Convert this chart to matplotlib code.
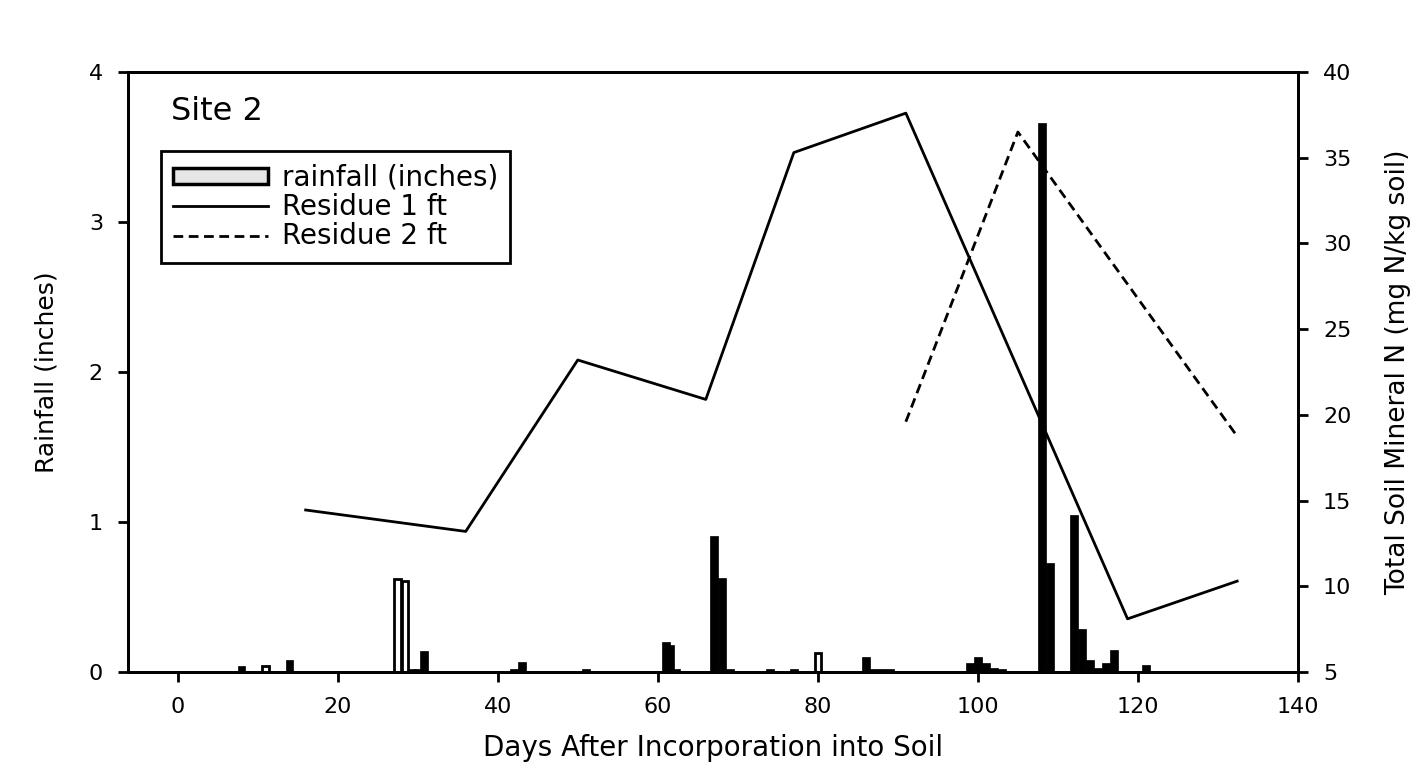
import matplotlib
matplotlib.use('Agg')
import matplotlib.pyplot as plt
from matplotlib.lines import Line2D
from matplotlib.patches import Patch

# daily rainfall (inches) vs days after incorporation
rain_days = [8, 11, 14, 27.5, 28.4, 29.3, 30, 30.8, 42, 43, 51, 61, 61.6, 62.3,
             67, 68, 69, 74, 77, 80, 86, 87, 88, 89, 99, 100, 101, 102, 103,
             108, 109, 112, 113, 114, 115, 116, 117, 121]
rain_in = [0.04, 0.04, 0.08, 0.62, 0.61, 0.02, 0.02, 0.14, 0.02, 0.07, 0.02, 0.20, 0.18, 0.02,
           0.91, 0.63, 0.02, 0.02, 0.02, 0.13, 0.10, 0.02, 0.02, 0.02, 0.06, 0.10, 0.06, 0.03, 0.02,
           3.66, 0.73, 1.05, 0.29, 0.08, 0.03, 0.06, 0.15, 0.05]
hollow_days = [11, 27.5, 28.4, 80]

# total soil mineral N (mg N/kg soil)
res1_days = [16, 36, 50, 66, 77, 91, 118.7, 132.4]
res1_n = [14.45, 13.2, 23.2, 20.9, 35.3, 37.6, 8.1, 10.3]
res2_days = [91, 105, 132.4]
res2_n = [19.6, 36.5, 18.75]

plt.rcParams['font.family'] = ['DejaVu Sans']
lw_ax = 2.0
dash = (0, (3.5, 2))

fig = plt.figure(figsize=(14.18, 7.68), dpi=100)
ax = fig.add_axes([128 / 1418, 96 / 768, 1170 / 1418, 600 / 768])

for d, r in zip(rain_days, rain_in):
    if d in hollow_days:
        ax.bar(d, r, width=0.8, color='white', edgecolor='black', linewidth=2, zorder=2)
    else:
        ax.bar(d, r, width=0.95, color='black', edgecolor='black', linewidth=0.5, zorder=2)

ax.set_xlim(-6.2, 140)
ax.set_ylim(0, 4)
ax.set_xticks(range(0, 141, 20))
ax.set_yticks(range(0, 5))
ax.set_xlabel('Days After Incorporation into Soil', fontsize=20, labelpad=12)
ax.set_ylabel('Rainfall (inches)', fontsize=18, labelpad=22)

ax2 = ax.twinx()
ax2.plot(res1_days, res1_n, color='black', linewidth=2)
ax2.plot(res2_days, res2_n, color='black', linewidth=2, linestyle=dash)
ax2.set_ylim(5, 40)
ax2.set_yticks(range(5, 41, 5))
ax2.set_ylabel('Total Soil Mineral N (mg N/kg soil)', fontsize=19, labelpad=24)

for a in (ax, ax2):
    for s in a.spines.values():
        s.set_linewidth(lw_ax)
    a.tick_params(direction='out', length=7, width=lw_ax, labelsize=16, pad=11)

ax.text(0.037, 0.96, 'Site 2', transform=ax.transAxes, fontsize=23, va='top', ha='left')

handles = [Patch(facecolor='#e6e6e6', edgecolor='black', linewidth=2.5),
           Line2D([], [], color='black', linewidth=2),
           Line2D([], [], color='black', linewidth=2, linestyle=dash)]
labels = ['rainfall (inches)', 'Residue 1 ft', 'Residue 2 ft']
leg = ax2.legend(handles, labels, loc='upper left', bbox_to_anchor=(0.028, 0.868),
                 fontsize=20, frameon=True, fancybox=False, framealpha=1,
                 handlelength=3.4, handleheight=0.5, handletextpad=0.5,
                 labelspacing=0.05, borderpad=0.45, borderaxespad=0)
leg.get_frame().set_edgecolor('black')
leg.get_frame().set_linewidth(lw_ax)

fig.savefig('out.png', dpi=100)
